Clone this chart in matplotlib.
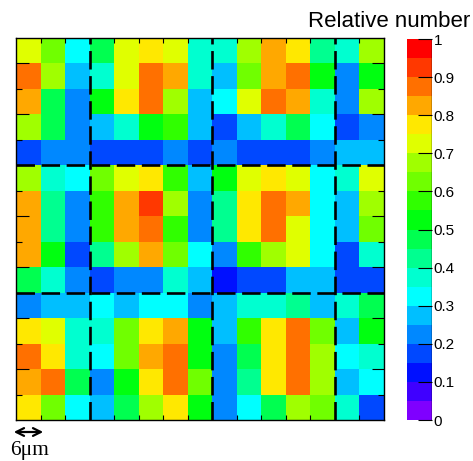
import numpy as np
import matplotlib
matplotlib.use('Agg')
import matplotlib.pyplot as plt
from matplotlib.colors import ListedColormap, BoundaryNorm

plt.rcParams['font.family'] = 'Liberation Sans'

# palette a 20 livelli (stile ROOT)
palette = ['#7f00ff', '#3f00ff', '#0010ff', '#0048ff', '#0088ff',
           '#00bfff', '#00ffff', '#00ffd0', '#00ff90', '#00ff50',
           '#00ff10', '#30ff00', '#70ff00', '#a0ff00', '#e0ff00',
           '#ffe800', '#ffa800', '#ff7000', '#ff3800', '#ff0000']
levels = np.linspace(0, 1, 21)
cbar_ticks = [0, 0.1, 0.2, 0.3, 0.4, 0.5, 0.6, 0.7, 0.8, 0.9, 1]
cbar_labels = ['0', '0.1', '0.2', '0.3', '0.4', '0.5', '0.6', '0.7', '0.8', '0.9', '1']

# valori per riga, dall'alto verso il basso
row00 = [0.72, 0.62, 0.32, 0.47, 0.72, 0.77, 0.72, 0.37, 0.37, 0.67, 0.82, 0.77, 0.42, 0.37, 0.67]
row01 = [0.87, 0.67, 0.27, 0.37, 0.72, 0.87, 0.82, 0.37, 0.27, 0.62, 0.82, 0.87, 0.52, 0.22, 0.52]
row02 = [0.82, 0.47, 0.22, 0.52, 0.77, 0.87, 0.67, 0.27, 0.32, 0.72, 0.87, 0.82, 0.37, 0.22, 0.67]
row03 = [0.67, 0.47, 0.22, 0.27, 0.37, 0.52, 0.57, 0.27, 0.17, 0.27, 0.37, 0.47, 0.32, 0.17, 0.22]
row04 = [0.17, 0.22, 0.22, 0.17, 0.17, 0.17, 0.22, 0.17, 0.22, 0.17, 0.17, 0.17, 0.22, 0.27, 0.27]
row05 = [0.67, 0.37, 0.32, 0.62, 0.72, 0.77, 0.57, 0.27, 0.52, 0.72, 0.77, 0.72, 0.32, 0.37, 0.72]
row06 = [0.82, 0.42, 0.22, 0.57, 0.82, 0.92, 0.67, 0.22, 0.42, 0.77, 0.87, 0.82, 0.32, 0.27, 0.67]
row07 = [0.82, 0.42, 0.22, 0.57, 0.82, 0.87, 0.57, 0.22, 0.42, 0.77, 0.87, 0.72, 0.32, 0.27, 0.62]
row08 = [0.82, 0.52, 0.17, 0.42, 0.67, 0.82, 0.62, 0.32, 0.22, 0.57, 0.67, 0.72, 0.32, 0.17, 0.37]
row09 = [0.47, 0.37, 0.22, 0.17, 0.22, 0.22, 0.37, 0.27, 0.12, 0.17, 0.17, 0.27, 0.27, 0.17, 0.17]
row10 = [0.22, 0.27, 0.27, 0.32, 0.27, 0.32, 0.32, 0.22, 0.27, 0.37, 0.37, 0.42, 0.27, 0.37, 0.47]
row11 = [0.77, 0.72, 0.37, 0.37, 0.62, 0.77, 0.82, 0.52, 0.27, 0.57, 0.77, 0.87, 0.62, 0.27, 0.52]
row12 = [0.87, 0.77, 0.37, 0.32, 0.62, 0.82, 0.87, 0.52, 0.22, 0.47, 0.77, 0.87, 0.67, 0.32, 0.37]
row13 = [0.82, 0.87, 0.47, 0.22, 0.52, 0.77, 0.87, 0.62, 0.22, 0.42, 0.77, 0.87, 0.67, 0.27, 0.32]
row14 = [0.77, 0.62, 0.32, 0.27, 0.47, 0.67, 0.77, 0.52, 0.22, 0.32, 0.47, 0.67, 0.62, 0.37, 0.17]

# confini dei blocchi tratteggiati (in celle)
block_cols = [3, 8, 13]
block_rows = [5, 10]

values = np.array([row00, row01, row02, row03, row04, row05, row06, row07,
                   row08, row09, row10, row11, row12, row13, row14])
nrow, ncol = values.shape

W, H = 473, 461
fig = plt.figure(figsize=(W / 100, H / 100), dpi=100)
ax = fig.add_axes([16 / W, 1 - 420 / H, (384 - 16) / W, (420 - 38) / H])

cmap = ListedColormap(palette)
norm = BoundaryNorm(levels, cmap.N)
mesh = ax.pcolormesh(np.arange(ncol + 1), np.arange(nrow + 1), values,
                     cmap=cmap, norm=norm)
ax.set_xlim(0, ncol)
ax.set_ylim(nrow, 0)

for c in block_cols:
    ax.axvline(c, color='black', lw=1.9, dashes=(7, 2.5))
for r in block_rows:
    ax.axhline(r, color='black', lw=1.9, dashes=(7, 2.5))

ax.set_xticks(range(1, ncol))
ax.set_xticklabels([])
ax.set_yticks(range(1, nrow, 2))
ax.set_yticks(range(2, nrow, 2), minor=True)
ax.set_yticklabels([])
ax.tick_params(axis='x', direction='in', length=3.5, width=0.8,
               top=True, bottom=True)
ax.tick_params(axis='y', which='major', direction='in', length=9, width=0.8,
               left=True, right=True)
ax.tick_params(axis='y', which='minor', direction='in', length=4.5, width=0.8,
               left=True, right=True)
for s in ax.spines.values():
    s.set_linewidth(1.0)

# barra dei colori
cax = fig.add_axes([407 / W, 1 - 420 / H, 25 / W, (420 - 39) / H])
cb = fig.colorbar(mesh, cax=cax, ticks=cbar_ticks)
cb.outline.set_visible(False)
cax.axvline(1, color='black', lw=1.0)
cax.set_yticklabels(cbar_labels)
cax.tick_params(direction='in', length=10, width=0.8, labelsize=11, pad=1)
cax.minorticks_off()

fig.text(470 / W, 1 - 27 / H, 'Relative number', ha='right', va='baseline',
         fontsize=16)

# scala
fig.patches.append(matplotlib.patches.FancyArrowPatch(
    (11 / W, 1 - 432 / H), (46 / W, 1 - 432 / H), transform=fig.transFigure,
    arrowstyle='<->', mutation_scale=14, lw=1.6, color='black'))
fig.text(10 / W, 1 - 455 / H, '6\u03bcm', family='Liberation Serif',
         fontsize=15.5, ha='left', va='baseline')

fig.savefig('out.png', dpi=100)
